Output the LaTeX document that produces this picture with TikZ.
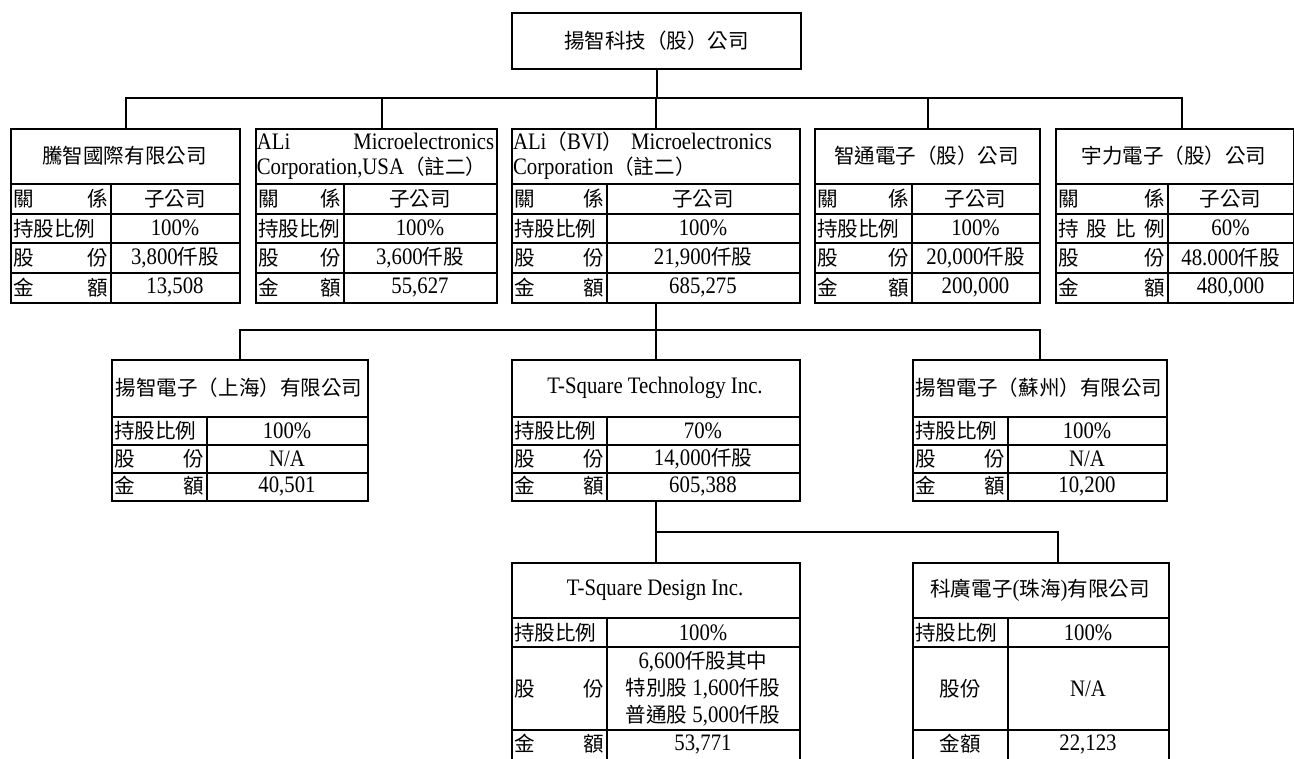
\documentclass[tikz,border=0pt]{standalone}
\usepackage{fontspec}
\setmainfont{Liberation Serif}[Scale=1.15, FakeStretch=0.88]
\newfontfamily\zhfont{Noto Sans CJK TC}
\newcommand{\zh}[1]{{\zhfont #1}}

\tikzset{
  company/.style 2 args={draw, line width=1.5pt, minimum width=#1*0.75pt,
    minimum height=#2*0.75pt, inner sep=0pt, anchor=north west},
  link/.style={line width=1.5pt},
  cell/.style={line width=1.5pt},
  txt/.style={inner sep=0pt, font=\fontsize{15.4}{18.5}\selectfont},
  lab/.style={txt, anchor=west},
}

\begin{document}
\begin{tikzpicture}[x=0.75pt, y=-0.75pt]
\useasboundingbox (0,0) rectangle (1294,758);

% company boxes
\node[company={289}{56}] (yangzhi) at (511,12) {};
\node[company={229}{174}] (tengzhi) at (10,128) {};
\node[company={241}{174}] (aliusa) at (255,128) {};
\node[company={288}{174}] (alibvi) at (511,128) {};
\node[company={225}{174}] (zhitong) at (814,128) {};
\node[company={238}{174}] (yuli) at (1055,128) {};
\node[company={256}{141}] (shanghai) at (111,359) {};
\node[company={288}{141}] (tech) at (511,359) {};
\node[company={254}{141}] (suzhou) at (912,359) {};
\node[company={288}{198}] (design) at (511,562) {};
\node[company={256}{198}] (kexun) at (912,562) {};

% cell lines
\foreach \xa/\xb/\xc in {10/111/239,255/344/496,511/607/799,814/912/1039,1055/1168/1293} {
  \foreach \y in {184,213.5,243,272.5}
    \draw[cell] (\xa,\y) -- (\xc,\y);
  \draw[cell] (\xb,184) -- (\xb,302);
}
\foreach \xa/\xb/\xc in {111/207/367,511/607/799,912/1008/1166} {
  \foreach \y in {417,445,472.5}
    \draw[cell] (\xa,\y) -- (\xc,\y);
  \draw[cell] (\xb,417) -- (\xb,500);
}
\foreach \xa/\xb/\xc in {511/607/799,912/1008/1168} {
  \foreach \y in {618,647,730}
    \draw[cell] (\xa,\y) -- (\xc,\y);
  \draw[cell] (\xb,618) -- (\xb,760);
}

% connectors
\coordinate (bar1) at (0,98);
\coordinate (bar2) at (0,330);
\coordinate (bar3) at (0,532);
\coordinate (usa-in) at ([xshift=4pt]aliusa.north);
\coordinate (yuli-in) at ([xshift=5pt]yuli.north);
\coordinate (kexun-in) at ([xshift=13pt]kexun.north);

\draw[link] (yangzhi.south) -- (yangzhi.south |- bar1);
\draw[link] (tengzhi.north) |- (yuli-in |- bar1) -- (yuli-in);
\foreach \n in {usa-in,alibvi.north,zhitong.north}
  \draw[link] (\n |- bar1) -- (\n);

\draw[link] (alibvi.south) -- (tech.north);
\draw[link] (shanghai.north) |- (suzhou.north |- bar2) -- (suzhou.north);

\draw[link] (tech.south) -- (design.north);
\draw[link] (design.north |- bar3) -- (kexun-in |- bar3) -- (kexun-in);

% top
\node[txt] (yangzhi-t) at (yangzhi.center) {\zh{揚智科技（股）公司}};

% row 1
\node[txt] (tengzhi-t) at (124.5,156) {\zh{騰智國際有限公司}};
\foreach \lab/\val [count=\i] in {關\hfill 係/\zh{子公司}, 持股比例/100\%, 股\hfill 份/{3,800\zh{仟股}}, 金\hfill 額/{13,508}} {
  \node[lab] (tengzhi-l\i) at (13,169.25+29.5*\i) {\makebox[71pt][l]{\zh{\lab}}};
  \node[txt] (tengzhi-v\i) at (175,169.25+29.5*\i) {\val};
}

\node[txt, text width=178pt, align=left] (aliusa-t) at (375.5,156)
  {ALi\hfill Microelectronics\\Corporation,USA\zh{（註二）}};
\foreach \lab/\val [count=\i] in {關\hfill 係/\zh{子公司}, 持股比例/100\%, 股\hfill 份/{3,600\zh{仟股}}, 金\hfill 額/{55,627}} {
  \node[lab] (aliusa-l\i) at (258,169.25+29.5*\i) {\makebox[62pt][l]{\zh{\lab}}};
  \node[txt] (aliusa-v\i) at (420,169.25+29.5*\i) {\val};
}

\node[txt, text width=213pt, align=left] (alibvi-t) at (655,156)
  {ALi\zh{（}BVI\zh{）} Microelectronics\\Corporation\zh{（註二）}};
\foreach \lab/\val [count=\i] in {關\hfill 係/\zh{子公司}, 持股比例/100\%, 股\hfill 份/{21,900\zh{仟股}}, 金\hfill 額/{685,275}} {
  \node[lab] (alibvi-l\i) at (514,169.25+29.5*\i) {\makebox[67pt][l]{\zh{\lab}}};
  \node[txt] (alibvi-v\i) at (703,169.25+29.5*\i) {\val};
}

\node[txt] (zhitong-t) at (926.5,156) {\zh{智通電子（股）公司}};
\foreach \lab/\val [count=\i] in {關\hfill 係/\zh{子公司}, 持股比例/100\%, 股\hfill 份/{20,000\zh{仟股}}, 金\hfill 額/{200,000}} {
  \node[lab] (zhitong-l\i) at (817,169.25+29.5*\i) {\makebox[69pt][l]{\zh{\lab}}};
  \node[txt] (zhitong-v\i) at (975.5,169.25+29.5*\i) {\val};
}

\node[txt] (yuli-t) at (1174,156) {\zh{宇力電子（股）公司}};
\foreach \lab/\val [count=\i] in {關\hfill 係/\zh{子公司}, 持\hfill 股\hfill 比\hfill 例/60\%, 股\hfill 份/{48.000\zh{仟股}}, 金\hfill 額/{480,000}} {
  \node[lab] (yuli-l\i) at (1058,169.25+29.5*\i) {\makebox[80pt][l]{\zh{\lab}}};
  \node[txt] (yuli-v\i) at (1230.5,169.25+29.5*\i) {\val};
}

% row 2
\node[txt] (shanghai-t) at (239,388) {\zh{揚智電子（上海）有限公司}};
\foreach \lab/\val [count=\i] in {持股比例/100\%, 股\hfill 份/{N/A}, 金\hfill 額/{40,501}} {
  \node[lab] (shanghai-l\i) at (114,403.5+27.5*\i) {\makebox[67pt][l]{\zh{\lab}}};
  \node[txt] (shanghai-v\i) at (287,403.5+27.5*\i) {\val};
}

\node[txt] (tech-t) at (655,388) {T-Square Technology Inc.};
\foreach \lab/\val [count=\i] in {持股比例/70\%, 股\hfill 份/{14,000\zh{仟股}}, 金\hfill 額/{605,388}} {
  \node[lab] (tech-l\i) at (514,403.5+27.5*\i) {\makebox[67pt][l]{\zh{\lab}}};
  \node[txt] (tech-v\i) at (703,403.5+27.5*\i) {\val};
}

\node[txt] (suzhou-t) at (1039,388) {\zh{揚智電子（蘇州）有限公司}};
\foreach \lab/\val [count=\i] in {持股比例/100\%, 股\hfill 份/{N/A}, 金\hfill 額/{10,200}} {
  \node[lab] (suzhou-l\i) at (915,403.5+27.5*\i) {\makebox[67pt][l]{\zh{\lab}}};
  \node[txt] (suzhou-v\i) at (1087,403.5+27.5*\i) {\val};
}

% row 3
\node[txt] (design-t) at (655,590) {T-Square Design Inc.};
\node[lab] (design-l1) at (514,632.5) {\makebox[67pt][l]{\zh{持股比例}}};
\node[txt] (design-v1) at (703,632.5) {100\%};
\node[lab] (design-l2) at (514,688.5) {\makebox[67pt][l]{\zh{股\hfill 份}}};
\node[txt, align=center, font=\fontsize{15.4}{20.25}\selectfont] (design-v2) at (703,688.5)
  {6,600\zh{仟股其中}\\\zh{特別股} 1,600\zh{仟股}\\\zh{普通股} 5,000\zh{仟股}};
\node[lab] (design-l3) at (514,744) {\makebox[67pt][l]{\zh{金\hfill 額}}};
\node[txt] (design-v3) at (703,744) {53,771};

\node[txt] (kexun-t) at (1040,590) {\zh{科廣電子}(\zh{珠海})\zh{有限公司}};
\node[lab] (kexun-l1) at (915,632.5) {\makebox[67pt][l]{\zh{持股比例}}};
\node[txt] (kexun-v1) at (1088,632.5) {100\%};
\node[txt] (kexun-l2) at (960,688.5) {\zh{股份}};
\node[txt] (kexun-v2) at (1088,688.5) {N/A};
\node[txt] (kexun-l3) at (960,744) {\zh{金額}};
\node[txt] (kexun-v3) at (1088,744) {22,123};

\end{tikzpicture}
\end{document}
